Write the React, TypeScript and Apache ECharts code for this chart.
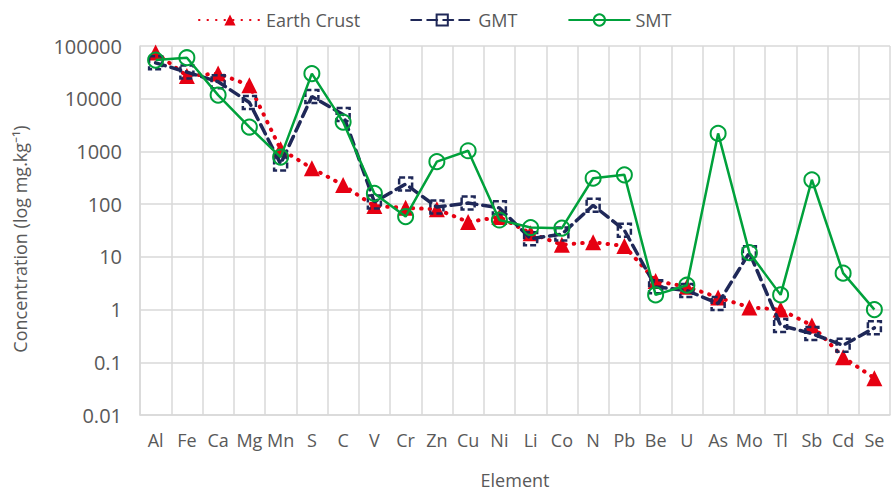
import React, { useEffect, useRef } from "react";
import * as echarts from "echarts";

const categories = ["Al", "Fe", "Ca", "Mg", "Mn", "S", "C", "V", "Cr", "Zn", "Cu", "Ni", "Li", "Co", "N", "Pb", "Be", "U", "As", "Mo", "Tl", "Sb", "Cd", "Se"];
const earthCrust = [75000, 27000, 30000, 18000, 1100, 480, 230, 92, 85, 80, 46, 57, 28, 17, 19, 16, 3.5, 2.7, 1.7, 1.1, 1.0, 0.5, 0.125, 0.05];
const gmt = [48000, 32000, 21000, 8500, 580, 11000, 5000, 110, 240, 88, 105, 85, 22, 27, 95, 32, 2.7, 2.3, 1.3, 12, 0.5, 0.35, 0.21, 0.45];
const smt = [54000, 60000, 11700, 2900, 780, 30000, 3600, 160, 58, 640, 1030, 50, 36, 35, 310, 360, 1.9, 2.9, 2200, 12, 1.9, 290, 4.9, 1.0];
const yTickLabels = ["0.01", "0.1", "1", "10", "100", "1000", "10000", "100000"];
const yAxisTitle = "Concentration (log mg.kg⁻¹)";

const FONT = "Open Sans";
const TEXT = "#595959";
const GRID = "#d9d9d9";

export default function App() {
  const ref = useRef<HTMLDivElement>(null);
  useEffect(() => {
    if (!ref.current) return;
    const chart = echarts.init(ref.current, null, { renderer: "svg" });
    chart.setOption({
      animation: false,
      textStyle: { fontFamily: FONT },
      legend: {
        top: 6,
        left: 193,
        itemWidth: 62,
        itemHeight: 14,
        itemGap: 50,
        textStyle: { fontFamily: FONT, fontSize: 18, color: TEXT },
        data: ["Earth Crust", "GMT", "SMT"],
      },
      graphic: [
        {
          type: "text",
          x: 20,
          y: 239,
          rotation: Math.PI / 2,
          style: { text: yAxisTitle, fontFamily: FONT, fontSize: 18, fill: TEXT, align: "center", verticalAlign: "middle" },
        },
      ],
      grid: { left: 140, right: 6, top: 46, bottom: 76, outerBoundsMode: "none", containLabel: false },
      xAxis: {
        type: "category",
        data: categories,
        boundaryGap: true,
        name: "Element",
        nameLocation: "middle",
        nameGap: 56,
        nameTextStyle: { fontFamily: FONT, fontSize: 18, color: TEXT },
        axisLine: { show: true, lineStyle: { color: GRID, width: 1.5 } },
        axisTick: { show: false },
        axisLabel: { fontFamily: FONT, fontSize: 18, color: TEXT, margin: 16, interval: 0 },
        splitLine: { show: true, lineStyle: { color: GRID, width: 1.5 } },
      },
      yAxis: {
        type: "log",
        logBase: 10,
        min: 0.01,
        max: 100000,
        axisLine: { show: true, lineStyle: { color: GRID, width: 1.5 } },
        axisTick: { show: false },
        axisLabel: {
          fontFamily: FONT,
          fontSize: 20,
          color: TEXT,
          margin: 18,
          formatter: (v: number) => yTickLabels[Math.round(Math.log10(v)) + 2] ?? String(v),
        },
        splitLine: { show: true, lineStyle: { color: GRID, width: 1.5 } },
      },
      series: [
        {
          name: "Earth Crust",
          type: "line",
          data: earthCrust,
          symbol: "triangle",
          symbolSize: 16,
          itemStyle: { color: "#e60012" },
          lineStyle: { color: "#e60012", width: 4, type: [0.5, 8], cap: "round" },
          z: 3,
        },
        {
          name: "GMT",
          type: "line",
          data: gmt,
          symbol: "rect",
          symbolSize: 13,
          itemStyle: { color: "rgba(255,255,255,0)", borderColor: "#1f2858", borderWidth: 2.5, borderType: [6, 3] },
          lineStyle: { color: "#1f2858", width: 3.5, type: [10, 6], cap: "round" },
          z: 4,
        },
        {
          name: "SMT",
          type: "line",
          data: smt,
          symbol: "circle",
          symbolSize: 15,
          itemStyle: { color: "rgba(255,255,255,0)", borderColor: "#00a13b", borderWidth: 2 },
          lineStyle: { color: "#00a13b", width: 2.5 },
          z: 5,
        },
      ],
    });
    return () => chart.dispose();
  }, []);
  return <div ref={ref} style={{ position: "absolute", left: 0, top: 0, width: 896, height: 491, background: "#fff" }} />;
}
